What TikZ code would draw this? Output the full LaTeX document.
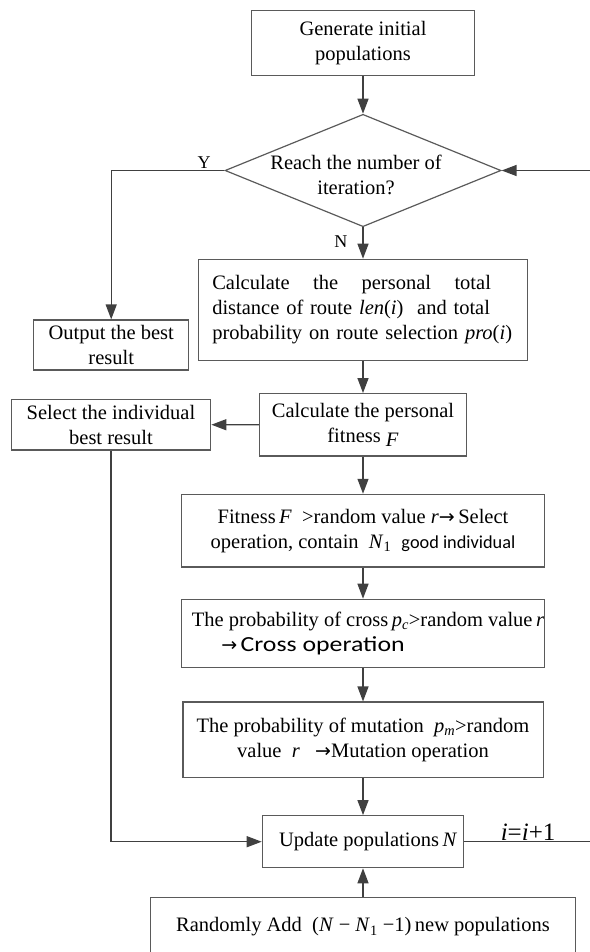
\documentclass[tikz,border=0pt]{standalone}
\usepackage{fontspec}
\setmainfont{Liberation Serif}
\newfontfamily\calfont{Carlito}
\newfontfamily\arrfont{DejaVu Sans}
\usetikzlibrary{shapes.geometric,arrows.meta}
\definecolor{boxgray}{HTML}{5A5A5A}
\definecolor{linegray}{HTML}{404040}
\newcommand{\myra}{{\arrfont\fontsize{19}{19}\selectfont →}}
\newcommand{\myvar}[1]{\textit{#1}}
\begin{document}
\begin{tikzpicture}[x=1pt,y=-1pt,
  font=\fontsize{20.5}{25}\selectfont,
  box/.style={draw=boxgray, line width=1.2pt, align=center, inner sep=0pt},
  decision/.style={draw=boxgray, line width=1.2pt, shape=diamond, inner sep=0pt},
  conn/.style={draw=linegray, line width=1.3pt},
  arr/.style={conn, -{Triangle[length=15pt,width=11pt]}},
  lab/.style={font=\fontsize{18}{18}\selectfont, inner sep=1pt}]
\useasboundingbox (0,0) rectangle (589,952);

\node[box, minimum width=222.8pt, minimum height=65.4pt] (gen) at (363,43) {Generate initial\\populations};
\node[decision, minimum width=276pt, minimum height=112.4pt,
  label={[align=center, yshift=-4pt, xshift=-7pt]center:Reach the number of\\iteration?}] (dec) at (363,170.5) {};
\node[box, minimum width=329.5pt, minimum height=101.4pt, text width=301.5pt, align=left, inner sep=14pt] (calc) at (363,310)
  {\hbox to 278.7pt{Calculate\hfil the\hfil personal\hfil total}\\distance of route \myvar{len}(\myvar{i})\ \ and total\\probability on route selection \myvar{pro}(\myvar{i})};
\node[box, minimum width=154.8pt, minimum height=50pt] (out) at (111.2,345) {Output the best\\result};
\node[box, minimum width=207pt, minimum height=62.3pt] (fit) at (363,424.8) {Calculate the personal\\fitness \raisebox{-4pt}{\myvar{F}}};
\node[box, minimum width=199.5pt, minimum height=50.7pt] (sel) at (111,424.7) {Select the individual\\best result};
\node[box, minimum width=362.9pt, minimum height=72.7pt] (selop) at (363,530.7)
  {Fitness\,\myvar{F}\ \ >random value \myvar{r}\myra\,Select\\operation, contain\ \ \myvar{N}\textsubscript{1}\ \ {\calfont\fontsize{18.3}{25}\selectfont good individual}};
\node[box, minimum width=362.9pt, minimum height=68.4pt] (cross) at (363,633.5)
  {\hspace*{10pt}The probability of cross\,\myvar{p}\textsubscript{\myvar{c}}>random value\,\myvar{r}\\\myra\,\scalebox{1.2}[1]{\calfont\fontsize{21.5}{25}\selectfont Cross operation}\hspace*{100pt}};
\node[box, minimum width=360.2pt, minimum height=75.3pt] (mut) at (363,739.7)
  {The probability of mutation\ \ \myvar{p}\textsubscript{\myvar{m}}>random\\value\ \ \myvar{r}\ \ \ \myra Mutation operation};
\node[box, minimum width=201.4pt, minimum height=52pt] (upd) at (363,841.7) {\ \ Update populations\,\myvar{N}};
\node[box, minimum width=424.5pt, minimum height=59.4pt] (add) at (363,927)
  {Randomly Add\ \ (\myvar{N} − \myvar{N}\textsubscript{1} −1)\,new populations};

\coordinate (rb) at (600,841.7);
\coordinate (rt) at (600,170.5);

\draw[arr] (gen.south) -- (dec.north);
\draw[arr] (dec.west) -| node[lab, pos=0.09, above] {Y} (out.north);
\draw[arr] (dec.south) -- node[lab, left, pos=0.45, xshift=-14pt] {N} (calc.north);
\draw[arr] (calc.south) -- (fit.north);
\draw[arr] (fit.west) -- (sel.east);
\draw[arr] (fit.south) -- (selop.north);
\draw[arr] (selop.south) -- (cross.north);
\draw[arr] (cross.south) -- (mut.north);
\draw[arr] (mut.south) -- (upd.north);
\draw[arr] (sel.south) |- (upd.west);
\draw[arr] (add.north) -- (upd.south);
\draw[arr] (upd.east) -- node[pos=0.47, anchor=south, inner sep=1pt, font=\fontsize{25}{25}\selectfont] {\myvar{i}=\myvar{i}+1} (rb) -- (rt) -- (dec.east);
\end{tikzpicture}
\end{document}
